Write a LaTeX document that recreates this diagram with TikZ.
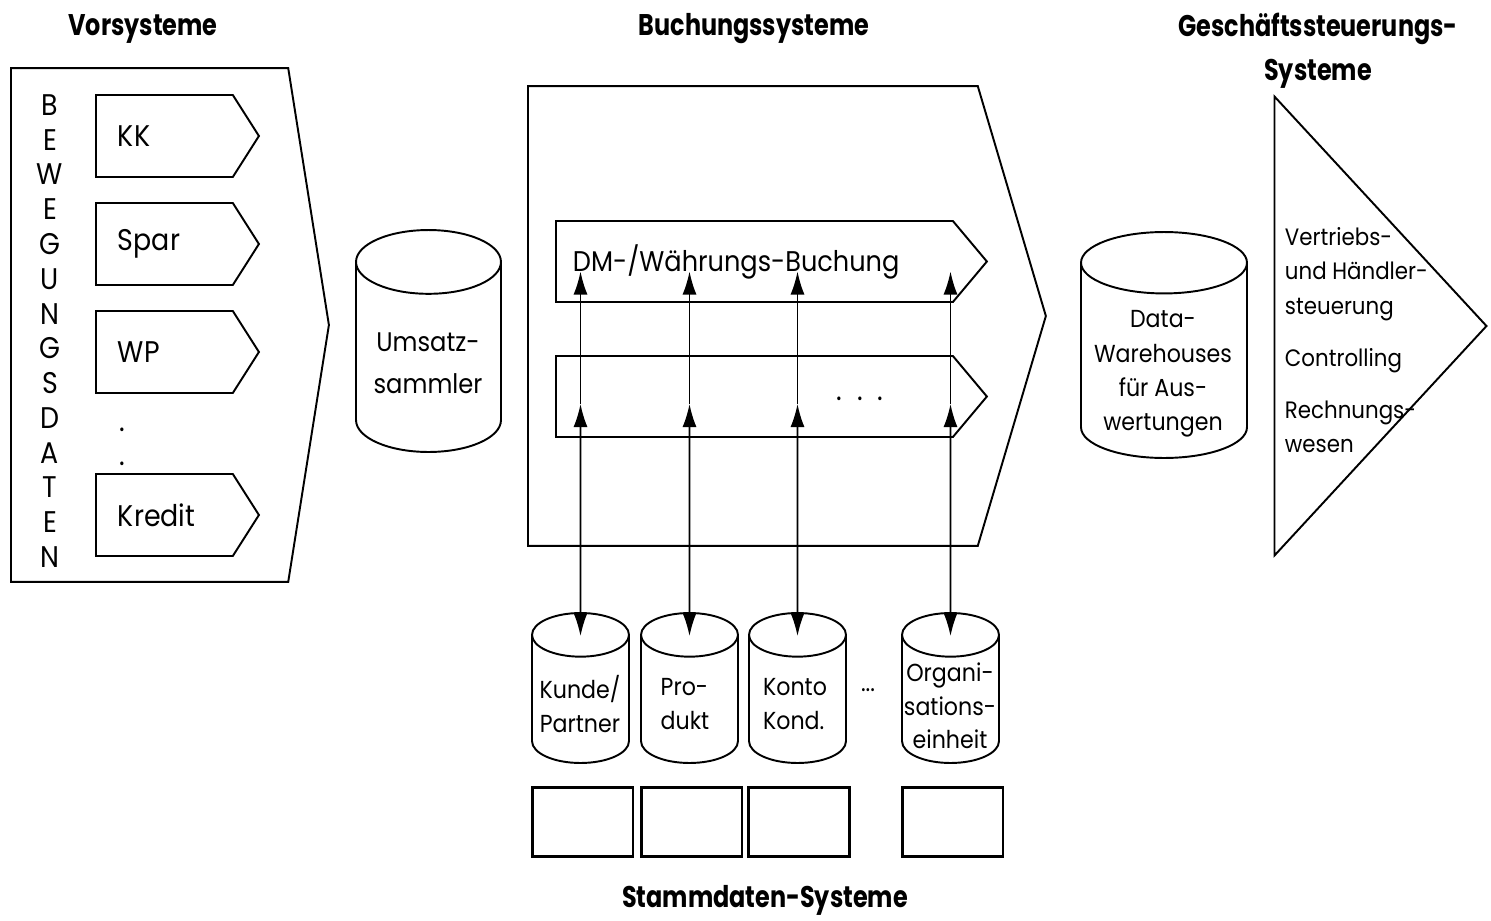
\documentclass[tikz,border=0pt]{standalone}
\usepackage{fontspec}
\setmainfont[FakeStretch=0.9]{Poppins}
\newfontfamily\headfont[FakeStretch=0.8]{Poppins}
\usetikzlibrary{shapes.geometric,shapes.symbols,arrows.meta}

\begin{document}
\begin{tikzpicture}[
  x=0.02cm, y=-0.02cm,
  % GLOBAL CFG
  font=\fontsize{14}{19.6}\selectfont,
  line width=1.1pt,
  % Styles
  stage/.style={% For the big system blocks
      signal,
      signal to=east,
      draw,
      inner sep=0pt,
      anchor=west,
      },
  tab/.style={% For the small source boxes
      signal,
      signal to=east,
      signal pointer angle=115,
      draw,
      inner sep=0pt,
      anchor=west,
      minimum width=3.26cm,
      minimum height=1.64cm,
      },
  row/.style={% For the booking rows
      signal,
      signal to=east,
      signal pointer angle=100,
      draw,
      inner sep=0pt,
      anchor=west,
      minimum width=8.62cm,
      minimum height=1.62cm,
      },
  db/.style={% For the data stores (text width sets the cap size)
      cylinder,
      shape border rotate=90,
      draw,
      inner sep=0pt,
      anchor=shape center,
      },
  smalldb/.style={% Master data stores
      db,
      aspect=0.45,
      text width=1.94cm,
      minimum width=1.94cm,
      minimum height=3cm,
      },
  store/.style={% For the boxes below the stores
      rectangle,
      draw,
      line width=1.7pt,
      minimum width=2.02cm,
      minimum height=1.38cm,
      },
  head/.style={% Column titles
      font=\headfont\bfseries\fontsize{17}{25}\selectfont,
      align=center,
      },
  lbl/.style={% Plain text
      inner sep=0pt,
      align=center,
      },
  big/.style={font=\fontsize{17}{20}\selectfont},
  ArrowUD/.style={% Arrows between stores and bookings
      line width=0.9pt,
      {Latex[length=0.46cm,width=0.28cm]}-{Latex[length=0.46cm,width=0.28cm]},
      },
  ArrowU/.style={%
      line width=0.9pt,
      -{Latex[length=0.46cm,width=0.28cm]},
      },
  ]

  \useasboundingbox (0,0) rectangle (1491,920);

  % Titles
  \node [head] (t-vor) at (143,29) {Vorsysteme};
  \node [head] (t-buch) at (754,29) {Buchungssysteme};
  \node [head] (t-gs) at (1318,51) {Geschäftssteuerungs-\\Systeme};
  \node [head] (t-stamm) at (765,900) {Stammdaten-Systeme};

  % Vorsysteme
  \node [stage, signal pointer angle=162, minimum width=6.36cm, minimum height=10.28cm] (vor) at (10,325) {};
  \node [lbl, font=\fontsize{17}{19.8}\selectfont] (bew) at (50,331)
    {B\\E\\W\\E\\G\\U\\N\\G\\S\\D\\A\\T\\E\\N};
  \node [tab] (kk) at (95,136) {};
  \node [tab] (spar) at (95,244) {};
  \node [tab] (wp) at (95,352) {};
  \node [tab] (kredit) at (95,515) {};
  \node [lbl, big, anchor=west] at ([xshift=0.44cm]kk.west) {KK};
  \node [lbl, big, anchor=west] at ([xshift=0.44cm]spar.west) {Spar};
  \node [lbl, big, anchor=west] at ([xshift=0.44cm]wp.west) {WP};
  \node [lbl, big, anchor=west] at ([xshift=0.44cm]kredit.west) {Kredit};
  \node [lbl, big] (dot1) at (122,430) {.};
  \node [lbl, big] (dot2) at (122,464) {.};

  \node [db, aspect=0.44, text width=2.9cm, minimum width=2.9cm, minimum height=4.44cm] (umsatz) at (428.5,341) {};
  \node [lbl, font=\fontsize{15.3}{24}\selectfont] at (428,363) {Umsatz-\\sammler};

  % Buchungssysteme
  \node [stage, signal pointer angle=147, minimum width=10.36cm, minimum height=9.2cm] (buch) at (527,316) {};
  \node [row] (dm) at (555,261.5) {};
  \node [row] (more) at (555,396.5) {};
  \node [lbl, anchor=west, font=\fontsize{16.2}{20}\selectfont] at ([xshift=0.34cm]dm.west) {DM-/Währungs-Buchung};
  \node [lbl, big] (more-dots) at (860,399) {.\hspace{0.5em}.\hspace{0.5em}.};

  \node [db, aspect=0.37, text width=3.32cm, minimum width=3.32cm, minimum height=4.52cm] (dwh) at (1164,345) {};
  \node [lbl] at (1163,374) {Data-\\Warehouses\\für Aus-\\wertungen};

  % Geschaeftssteuerung
  \node [isosceles triangle, isosceles triangle stretches, draw, inner sep=0pt,
         minimum height=4.24cm, minimum width=9.18cm, anchor=apex] (gs) at (1489,326) {};
  \node [lbl, anchor=west, align=left, font=\fontsize{13.5}{19.6}\selectfont] (gs-txt) at (1284,340)
    {Vertriebs-\\und Händler-\\steuerung\\[0.35cm]Controlling\\[0.35cm]Rechnungs-\\wesen};

  % Stammdaten
  \node [smalldb] (kunde) at (580.5,688) {};
  \node [smalldb] (produkt) at (689.5,688) {};
  \node [smalldb] (konto) at (797.5,688) {};
  \node [smalldb] (orga) at (950.5,688) {};
  \node [lbl] at (580,704) {Kunde/\\Partner};
  \node [lbl, align=left] at (685,704) {Pro-\\dukt};
  \node [lbl, align=left] at (795,704) {Konto\\Kond.};
  \node [lbl, font=\fontsize{14}{19}\selectfont] at (950,706) {Organi-\\sations-\\einheit};
  \node [lbl] (cyl-dots) at (868,690) {...};

  \node [store] (s1) at (582.5,821.5) {};
  \node [store] (s2) at (691.5,821.5) {};
  \node [store] (s3) at (799,821.5) {};
  \node [store] (s4) at (952.5,821.5) {};

  % Arrows
  \foreach \db in {kunde,produkt,konto,orga}{
    \coordinate (\db-in) at ([yshift=-0.48cm]\db.north);
    \coordinate (\db-mid) at ([yshift=-0.15cm]\db |- more.center);
    \coordinate (\db-top) at ([yshift=-0.2cm]\db |- dm.center);
    \draw [ArrowUD] (\db-in) -- (\db-mid);
    \draw [ArrowU] (\db-mid) -- (\db-top);
  }

\end{tikzpicture}
\end{document}
